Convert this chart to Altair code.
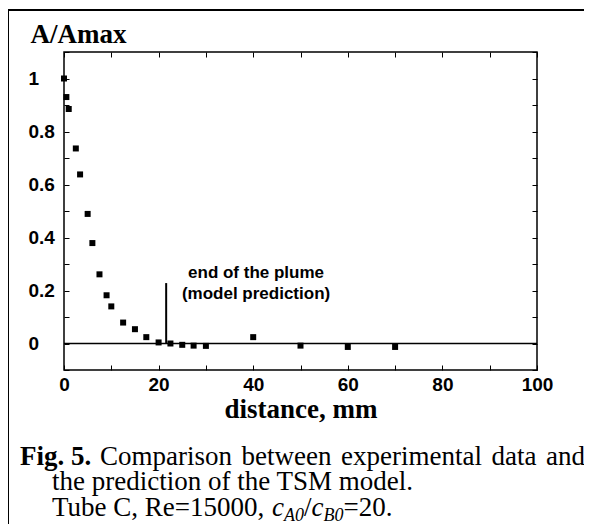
import altair as alt
import pandas as pd

# ---- data ----
distance_mm = [0, 0.5, 1.0, 2.5, 3.4, 5.0, 6.0, 7.5, 9.0, 10.0, 12.5, 15.0, 17.4,
               20.0, 22.5, 25.0, 27.4, 30.0, 40.0, 50.0, 60.0, 70.0]
a_over_amax = [1.0, 0.93, 0.885, 0.736, 0.638, 0.489, 0.379, 0.261, 0.182, 0.140,
               0.079, 0.054, 0.024, 0.004, 0.0, -0.005, -0.008, -0.009, 0.024,
               -0.008, -0.013, -0.013]

plume_end_x = [21.6]
plume_line_y0 = [0.0]
plume_line_y1 = [0.228]

annot_text = ["end of the plume", "(model prediction)"]
annot_x = [40.6, 40.6]
annot_y = [0.248, 0.169]

zero_level = [0.0]

x_ticks = [0, 10, 20, 30, 40, 50, 60, 70, 80, 90, 100]
y_ticks = [-0.1, 0.0, 0.1, 0.2, 0.3, 0.4, 0.5, 0.6, 0.7, 0.8, 0.9, 1.0, 1.1]

caption_line1_bold = "Fig. 5."
caption_line1_words = ["Comparison", "between", "experimental", "data", "and"]
caption_line2 = "the prediction of the TSM model."
caption_line3_parts = ["Tube C, Re=15000,", "c", "A0", "/", "c", "B0", "=20."]

W, H = 473, 318

pts = pd.DataFrame({"distance": distance_mm, "ratio": a_over_amax})
plume = pd.DataFrame({"x": plume_end_x, "y0": plume_line_y0, "y1": plume_line_y1})
annot = pd.DataFrame({"t": annot_text, "x": annot_x, "y": annot_y})
zero = pd.DataFrame({"y": zero_level})
one = pd.DataFrame({"k": [0]})

xscale = alt.Scale(domain=[0, 100], nice=False, zero=False)
yscale = alt.Scale(domain=[-0.1, 1.1], nice=False, zero=False)

SANS = "Liberation Sans"
SERIF = "Liberation Serif"

x_axis_main = alt.Axis(
    orient="bottom", values=x_ticks,
    labelExpr="round(datum.value) % 20 == 0 ? format(datum.value, 'd') : ''",
    offset=-5, tickSize=5, tickColor="black", tickWidth=1, domain=False, grid=False,
    labelFont=SANS, labelFontWeight="bold", labelFontSize=19, labelColor="black",
    labelPadding=5, labelFlush=False, labelOverlap=False,
    title="distance, mm", titleFont=SERIF, titleFontSize=27, titleFontWeight="bold",
    titleColor="black", titleX=W / 2, titleY=52, titleBaseline="alphabetic", titleAlign="center",
)
y_axis_main = alt.Axis(
    orient="left", values=y_ticks,
    labelExpr="(abs(round(datum.value * 10)) % 2 == 0 && datum.value > -0.05 && datum.value < 1.05) ? format(datum.value, '~g') : ''",
    offset=-5, tickSize=5, tickColor="black", tickWidth=1, domain=False, grid=False,
    labelFont=SANS, labelFontWeight="bold", labelFontSize=19, labelColor="black",
    labelAlign="left", labelBaseline="middle", labelPadding=36, labelFlush=False, labelOverlap=False,
    title="A/Amax", titleFont=SERIF, titleFontSize=27, titleFontWeight="bold",
    titleColor="black", titleAngle=0, titleX=-39, titleY=-10,
    titleAlign="left", titleBaseline="alphabetic",
)
x_axis_top = alt.Axis(orient="top", values=x_ticks, labels=False, offset=-5, tickSize=5,
                      tickColor="black", tickWidth=1, domain=False, grid=False, title=None)
y_axis_right = alt.Axis(orient="right", values=y_ticks, labels=False, offset=-5, tickSize=5,
                        tickColor="black", tickWidth=1, domain=False, grid=False, title=None)

points = alt.Chart(pts).mark_point(shape="square", filled=True, size=36, color="black", opacity=1).encode(
    x=alt.X("distance:Q", scale=xscale, axis=x_axis_main),
    y=alt.Y("ratio:Q", scale=yscale, axis=y_axis_main),
)

zero_line = alt.Chart(zero).mark_rule(color="black", strokeWidth=1.3).encode(
    y=alt.Y("y:Q", scale=yscale, axis=y_axis_right),
)

plume_line = alt.Chart(plume).mark_rule(color="black", strokeWidth=2).encode(
    x=alt.X("x:Q", scale=xscale, axis=x_axis_top),
    y=alt.Y("y0:Q", scale=yscale, axis=None),
    y2="y1:Q",
)

annotation = alt.Chart(annot).mark_text(
    font=SANS, fontWeight="bold", fontSize=17, color="black", align="center", baseline="alphabetic"
).encode(
    x=alt.X("x:Q", scale=xscale, axis=None),
    y=alt.Y("y:Q", scale=yscale, axis=None),
    text="t:N",
)

OX, OY = 64, 52  # plot origin on the page


def txt(s, px, py, size=27, weight="normal", style="normal"):
    return alt.Chart(one).mark_text(
        font=SERIF, fontSize=size, fontWeight=weight, fontStyle=style, color="black",
        align="left", baseline="alphabetic",
    ).encode(x=alt.value(px - OX), y=alt.value(py - OY), text=alt.value(s))


word_x = [100, 241.5, 341, 491.5, 546]
caption = [txt(caption_line1_bold, 20, 465, weight="bold")]
caption += [txt(w, x, 465) for w, x in zip(caption_line1_words, word_x)]
caption.append(txt(caption_line2, 52, 490))
l3 = caption_line3_parts
caption += [
    txt(l3[0], 52, 516),
    txt(l3[1], 272, 516, style="italic"),
    txt(l3[2], 284, 521, size=18, style="italic"),
    txt(l3[3], 304, 516),
    txt(l3[4], 311.5, 516, style="italic"),
    txt(l3[5], 323.5, 521, size=18, style="italic"),
    txt(l3[6], 343.5, 516),
]

border_left = alt.Chart(one).mark_rule(color="black", strokeWidth=2).encode(
    x=alt.value(8 - OX), y=alt.value(10 - OY), y2=alt.value(540 - OY))
border_top = alt.Chart(one).mark_rule(color="black", strokeWidth=2).encode(
    x=alt.value(8 - OX), x2=alt.value(600 - OX), y=alt.value(10 - OY))

chart = alt.layer(
    points, zero_line, plume_line, annotation, border_left, border_top, *caption
).resolve_axis(
    x="independent", y="independent"
).properties(
    width=W, height=H,
    autosize=alt.AutoSizeParams(type="none"),
    padding={"left": 56, "top": 44, "right": 47, "bottom": 154},
).configure_view(stroke="black", strokeWidth=1.5)

chart.save("out.html", embed_options={"renderer": "svg", "actions": False})
